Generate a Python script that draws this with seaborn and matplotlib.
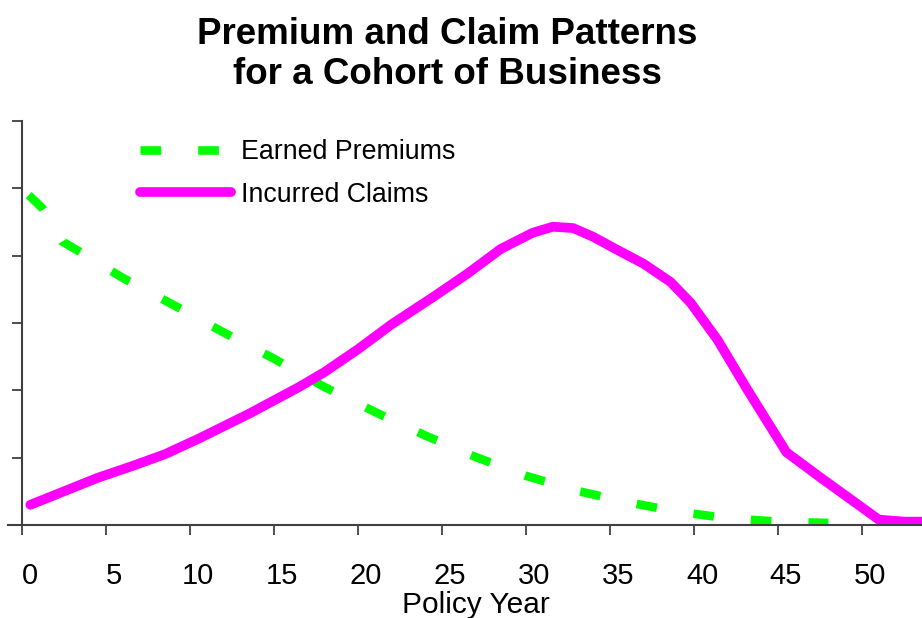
import matplotlib
matplotlib.use('Agg')
import matplotlib.pyplot as plt
import matplotlib.transforms as mtransforms
import seaborn as sns

# values (arbitrary units, y axis has no labels)
premium_year = [0.4, 1.2, 2.4, 3.5, 6, 9, 12, 15, 18, 21, 24, 27, 30, 33, 36, 39, 42, 45, 48]
premium_value = [4.90, 4.71, 4.21, 4.05, 3.67, 3.27, 2.86, 2.47, 2.05, 1.68, 1.33, 1.01,
                 0.73, 0.51, 0.34, 0.20, 0.10, 0.05, 0.03]

claim_year = [0.5, 2.5, 4.5, 6.5, 8.5, 10.5, 13.5, 16.5, 18, 20, 22, 24.5, 26.5, 28.5,
              30.4, 31.6, 32.8, 34, 35.4, 37, 38.6, 39.8, 41.4, 43.2, 45.5, 47.5, 49.5,
              51, 52.5, 53.6]
claim_value = [0.30, 0.50, 0.70, 0.87, 1.05, 1.28, 1.65, 2.05, 2.27, 2.61, 2.98, 3.39, 3.73,
               4.10, 4.34, 4.43, 4.41, 4.28, 4.09, 3.88, 3.61, 3.30, 2.75, 2.00, 1.08, 0.71,
               0.35, 0.08, 0.05, 0.05]

x_ticks = list(range(0, 51, 5))
y_ticks = list(range(0, 7))

sns.set_style('ticks')
plt.rcParams['font.family'] = ['Liberation Sans', 'DejaVu Sans']
plt.rcParams['text.color'] = 'black'

fig = plt.figure(figsize=(9.22, 6.18), dpi=100)
ax = fig.add_axes([8 / 922, 93 / 618, 914 / 922, 404 / 618])

sns.lineplot(x=premium_year, y=premium_value, ax=ax, color='#00ff00', lw=6.2,
             ls=(0, (2.4, 4.3)), dash_capstyle='butt', label='Earned Premiums')
sns.lineplot(x=claim_year, y=claim_value, ax=ax, color='#ff00ff', lw=7,
             solid_capstyle='round', solid_joinstyle='round', label='Incurred Claims')

ax.set_xlim(-0.83, 53.57)
ax.set_ylim(0, 6)
ax.set_xticks(x_ticks)
ax.set_yticks(y_ticks)
ax.set_yticklabels([])

for side in ['top', 'right']:
    ax.spines[side].set_visible(False)
ax.spines['left'].set_position(('data', 0))
for side in ['left', 'bottom']:
    ax.spines[side].set_color('#404040')
    ax.spines[side].set_linewidth(1.5)

ax.tick_params(axis='both', direction='out', length=7, width=1.3, color='#404040')
ax.tick_params(axis='x', labelsize=21, pad=20, labelcolor='black')

# the labels in the reference sit a little to the right of their ticks
offset = mtransforms.ScaledTranslation(8 / 100, 0, fig.dpi_scale_trans)
for lab in ax.get_xticklabels():
    lab.set_transform(lab.get_transform() + offset)

ax.set_xlabel('Policy Year', fontsize=21.5, color='black')
ax.xaxis.set_label_coords(0.512, -0.163)
ax.set_ylabel('')

fig.text(447 / 922, 1 - 17 / 618, 'Premium and Claim Patterns\nfor a Cohort of Business',
         ha='center', va='top', fontsize=26.5, fontweight='bold', linespacing=1.2,
         color='black')

leg = ax.legend(loc='upper left', bbox_to_anchor=(140 / 922, 1 - 139 / 618),
                bbox_transform=fig.transFigure, frameon=False, fontsize=19.3,
                handlelength=3.4, handletextpad=0.38, labelspacing=0.62,
                borderpad=0, borderaxespad=0)
for t in leg.get_texts():
    t.set_color('black')

fig.savefig('out.png', dpi=100)
plt.close(fig)
